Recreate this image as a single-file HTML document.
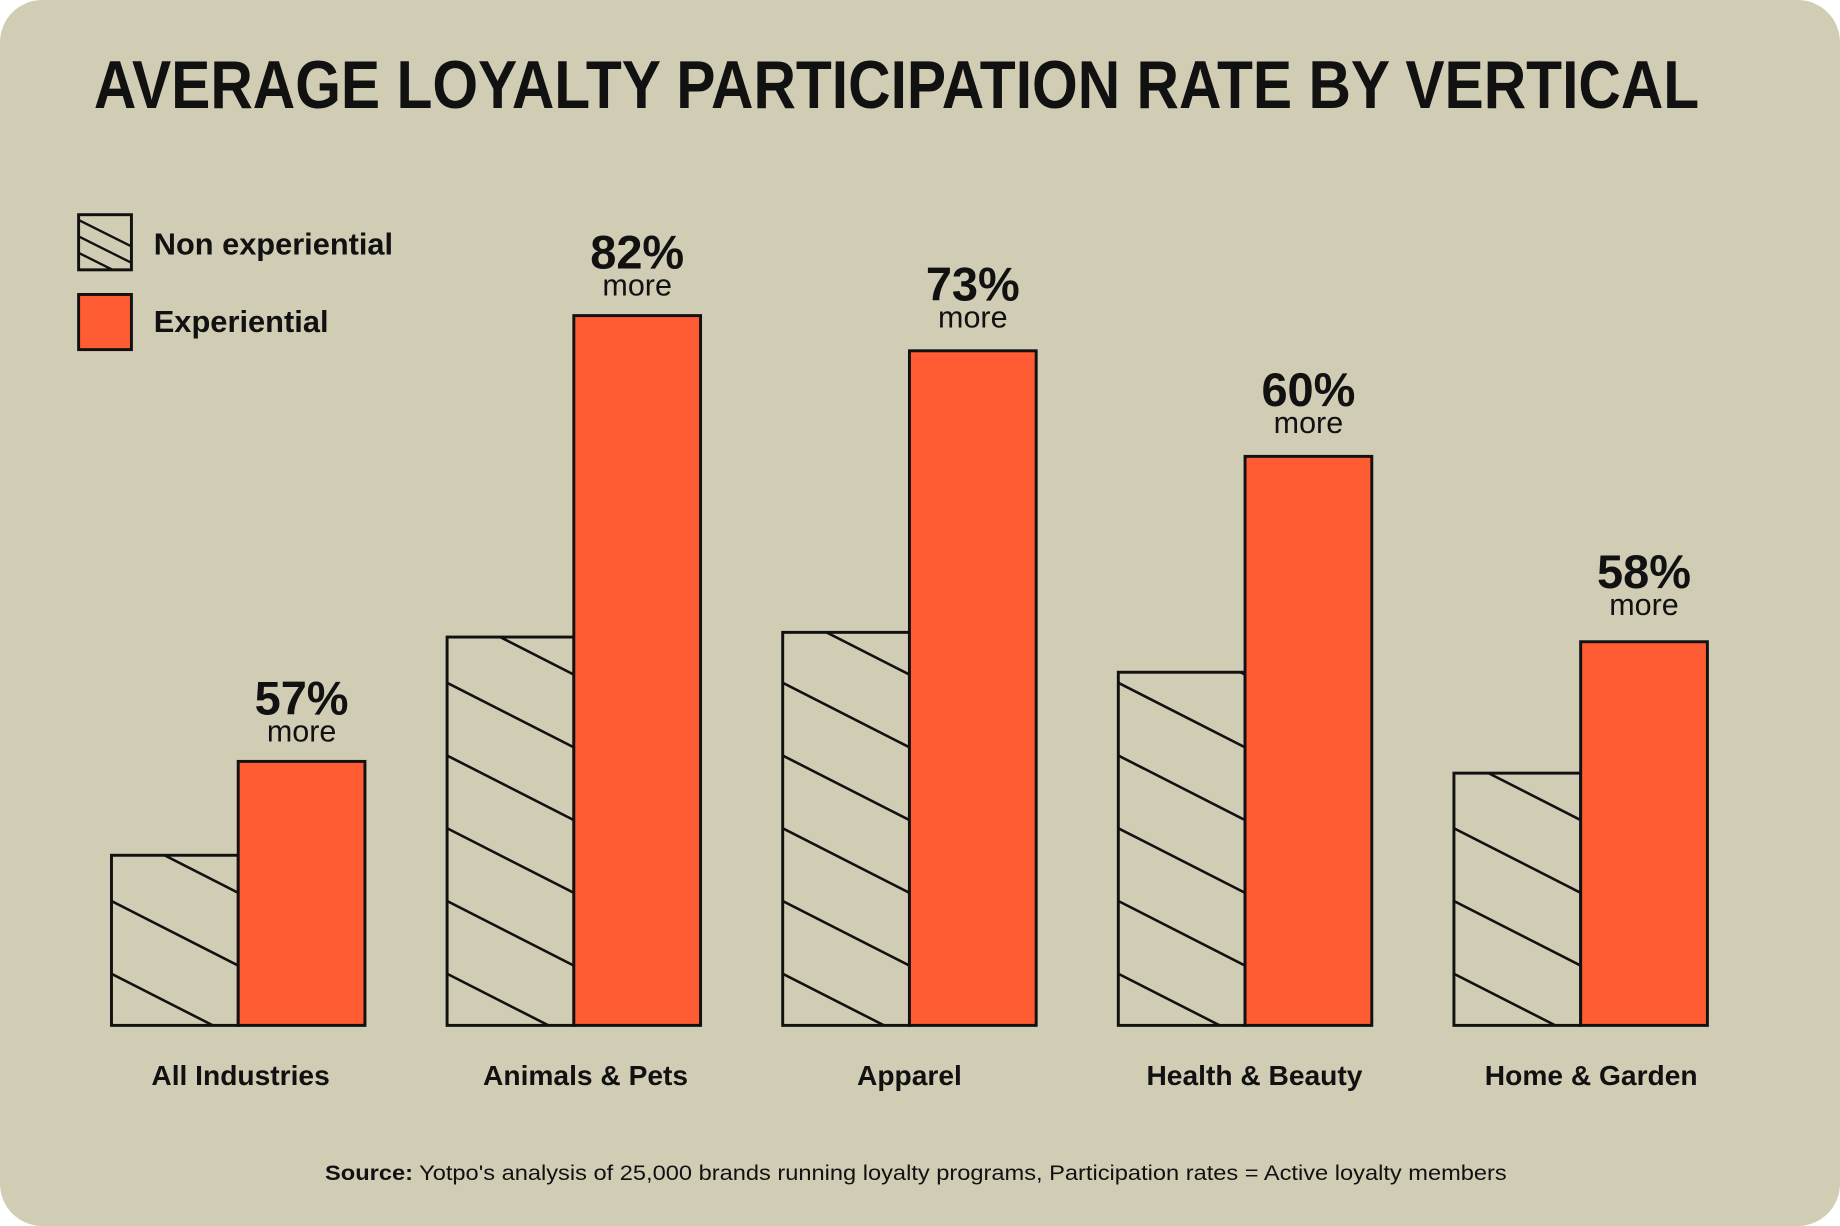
<!DOCTYPE html>
<html><head><meta charset="utf-8"><style>
html,body{margin:0;padding:0;background:#fff;}
svg{display:block;}
text{font-family:"Liberation Sans",sans-serif;fill:#111;}
</style></head><body>
<svg width="1840" height="1226" viewBox="0 0 1568 1045" preserveAspectRatio="none" xmlns="http://www.w3.org/2000/svg">
<defs>
<clipPath id="c1"><rect x="95" y="729" width="108" height="145"/></clipPath>
<clipPath id="c2"><rect x="381" y="543" width="108" height="331"/></clipPath>
<clipPath id="c3"><rect x="667" y="539" width="108" height="335"/></clipPath>
<clipPath id="c4"><rect x="953" y="573" width="108" height="301"/></clipPath>
<clipPath id="c5"><rect x="1239" y="659" width="108" height="215"/></clipPath>
<clipPath id="cl"><rect x="67" y="183" width="45" height="47"/></clipPath>
</defs>
<rect x="0" y="0" width="1568" height="1045" rx="36" fill="#d1ccb4"/>
<text x="80" y="92" font-size="58" font-weight="bold" textLength="1368" lengthAdjust="spacingAndGlyphs">AVERAGE LOYALTY PARTICIPATION RATE BY VERTICAL</text>

<!-- legend -->
<g clip-path="url(#cl)" stroke="#111" stroke-width="2">
<line x1="60" y1="184" x2="120" y2="214"/><line x1="60" y1="198" x2="120" y2="228"/><line x1="60" y1="212" x2="120" y2="242"/><line x1="90" y1="170" x2="130" y2="190"/>
</g>
<rect x="67" y="183" width="45" height="47" fill="none" stroke="#111" stroke-width="2.5"/>
<rect x="67" y="251" width="45" height="47" fill="#ff5c33" stroke="#111" stroke-width="2.5"/>
<text x="131" y="217" font-size="26" font-weight="bold" textLength="204" lengthAdjust="spacingAndGlyphs">Non experiential</text>
<text x="131" y="283" font-size="26" font-weight="bold" textLength="149" lengthAdjust="spacingAndGlyphs">Experiential</text>

<g stroke="#111" stroke-width="2.2">
<g clip-path="url(#c1)"><path d="M95 830 l108 55 M95 768 l108 55 M95 706 l108 55 M95 644 l108 55"/></g>
<g clip-path="url(#c2)"><path d="M381 830 l108 55 M381 768 l108 55 M381 706 l108 55 M381 644 l108 55 M381 582 l108 55 M381 520 l108 55"/></g>
<g clip-path="url(#c3)"><path d="M667 830 l108 55 M667 768 l108 55 M667 706 l108 55 M667 644 l108 55 M667 582 l108 55 M667 520 l108 55"/></g>
<g clip-path="url(#c4)"><path d="M953 830 l108 55 M953 768 l108 55 M953 706 l108 55 M953 644 l108 55 M953 582 l108 55 M953 520 l108 55"/></g>
<g clip-path="url(#c5)"><path d="M1239 830 l108 55 M1239 768 l108 55 M1239 706 l108 55 M1239 644 l108 55 M1239 582 l108 55"/></g>
</g>
<g stroke="#111" stroke-width="2.5">
<rect x="95" y="729" width="108" height="145" fill="none"/>
<rect x="203" y="649" width="108" height="225" fill="#ff5c33"/>
<rect x="381" y="543" width="108" height="331" fill="none"/>
<rect x="489" y="269" width="108" height="605" fill="#ff5c33"/>
<rect x="667" y="539" width="108" height="335" fill="none"/>
<rect x="775" y="299" width="108" height="575" fill="#ff5c33"/>
<rect x="953" y="573" width="108" height="301" fill="none"/>
<rect x="1061" y="389" width="108" height="485" fill="#ff5c33"/>
<rect x="1239" y="659" width="108" height="215" fill="none"/>
<rect x="1347" y="547" width="108" height="327" fill="#ff5c33"/>
</g>

<g text-anchor="middle">
<text x="257" y="609" font-size="40" font-weight="bold">57%</text><text x="257" y="632" font-size="26">more</text>
<text x="543" y="229" font-size="40" font-weight="bold">82%</text><text x="543" y="252" font-size="26">more</text>
<text x="829" y="256" font-size="40" font-weight="bold">73%</text><text x="829" y="279" font-size="26">more</text>
<text x="1115" y="346" font-size="40" font-weight="bold">60%</text><text x="1115" y="369" font-size="26">more</text>
<text x="1401" y="501" font-size="40" font-weight="bold">58%</text><text x="1401" y="524" font-size="26">more</text>

<text x="205" y="925" font-size="24" font-weight="bold">All Industries</text>
<text x="499" y="925" font-size="24" font-weight="bold">Animals &amp; Pets</text>
<text x="775" y="925" font-size="24" font-weight="bold">Apparel</text>
<text x="1069" y="925" font-size="24" font-weight="bold">Health &amp; Beauty</text>
<text x="1356" y="925" font-size="24" font-weight="bold">Home &amp; Garden</text>
</g>
<text x="277" y="1006" font-size="18" textLength="1007" lengthAdjust="spacingAndGlyphs"><tspan font-weight="bold">Source:</tspan> Yotpo's analysis of 25,000 brands running loyalty programs, Participation rates = Active loyalty members</text>
</svg>
</body></html>
